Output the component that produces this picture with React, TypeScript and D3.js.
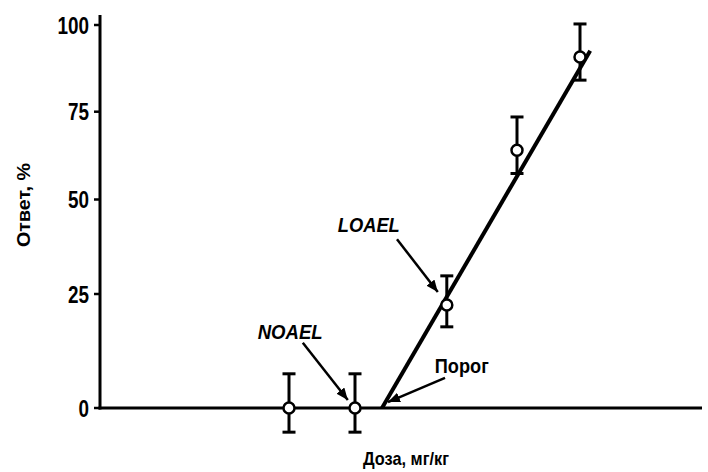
import React from 'react';
import * as d3 from 'd3';

// dose (arbitrary units) and response, %
const doses = [3.15, 4.25, 5.78, 6.95, 8.0];
const responses = [0, 0, 22.6, 64, 90.8];
const errHigh = [7.5, 7.5, 29.8, 73.5, 100.3];
const errLow = [-5.3, -5.3, 17.8, 57.4, 84.1];

// fitted line: threshold -> top
const fitLine: [number, number][] = [[4.7, 0], [8.17, 92.6]];

const yTicks = [0, 25, 50, 75, 100];

// annotations: label position and arrow from -> to (data coords)
const annotations = [
  { text: 'NOAEL', italic: true, x: 3.17, y: 15.1, from: [3.38, 14.3], to: [4.13, 1.75], len: 65 },
  { text: 'LOAEL', italic: true, x: 4.48, y: 41.4, from: [4.95, 39.5], to: [5.63, 25.5], len: 62 },
  { text: 'Порог', italic: false, x: 6.03, y: 7.7, from: [5.75, 6.6], to: [4.8, 1.3], len: 54 },
];

const W = 708;
const H = 472;
const font = '"Liberation Sans", Arial, Helvetica, sans-serif';

const App: React.FC = () => {
  const x = d3.scaleLinear().domain([0, 10]).range([100, 700]);
  // the printed axis is not evenly spaced, so map each tick where it sits
  const y = d3.scaleLinear().domain(yTicks).range([408, 294, 199.5, 111.7, 25]);

  const line = d3.line<[number, number]>().x(d => x(d[0])).y(d => y(d[1]));

  return (
    <svg width={W} height={H} style={{ position: 'absolute', left: 0, top: 0, background: '#fff' }}>
      <defs>
        <marker id="head" viewBox="0 0 12 10" refX="12" refY="5" markerWidth="12" markerHeight="10"
          markerUnits="userSpaceOnUse" orient="auto">
          <path d="M0,0 L12,5 L0,10 Z" fill="#000" />
        </marker>
      </defs>

      {/* axes */}
      <line x1={x(0)} x2={x(0)} y1={15} y2={y(0) + 1.5} stroke="#000" strokeWidth={3} />
      <line x1={x(0) - 1.5} x2={702} y1={y(0)} y2={y(0)} stroke="#000" strokeWidth={3} />
      {yTicks.map(t => (
        <g key={t}>
          <line x1={x(0) - 6} x2={x(0)} y1={y(t)} y2={y(t)} stroke="#000" strokeWidth={2.5} />
          <text x={x(0) - 11} y={y(t)} dy="0.37em" textAnchor="end" fontFamily={font}
            fontWeight="bold" fontSize={23} textLength={String(t).length * 10.5}
            lengthAdjust="spacingAndGlyphs">{t}</text>
        </g>
      ))}

      {/* axis titles */}
      <text x={406} y={465} textAnchor="middle" fontFamily={font} fontWeight="bold" fontSize={19}
        textLength={86} lengthAdjust="spacingAndGlyphs">Доза, мг/кг</text>
      <text transform="translate(30,205) rotate(-90)" textAnchor="middle" fontFamily={font}
        fontWeight="bold" fontSize={19} textLength={84} lengthAdjust="spacingAndGlyphs">Ответ, %</text>

      {/* fitted line */}
      <path d={line(fitLine) || ''} fill="none" stroke="#000" strokeWidth={4} />

      {/* error bars */}
      {doses.map((d, i) => (
        <g key={i} stroke="#000" strokeWidth={3}>
          <line x1={x(d)} x2={x(d)} y1={y(errHigh[i])} y2={y(errLow[i])} />
          <line x1={x(d) - 6.5} x2={x(d) + 6.5} y1={y(errHigh[i])} y2={y(errHigh[i])} />
          <line x1={x(d) - 6.5} x2={x(d) + 6.5} y1={y(errLow[i])} y2={y(errLow[i])} />
        </g>
      ))}

      {/* points */}
      {doses.map((d, i) => (
        <circle key={i} cx={x(d)} cy={y(responses[i])} r={5.5} fill="#fff" stroke="#000" strokeWidth={2.5} />
      ))}

      {/* annotations */}
      {annotations.map(a => (
        <g key={a.text}>
          <text x={x(a.x)} y={y(a.y)} textAnchor="middle" fontFamily={font} fontWeight="bold"
            fontStyle={a.italic ? 'italic' : 'normal'} fontSize={21} textLength={a.len}
            lengthAdjust="spacingAndGlyphs">{a.text}</text>
          <line x1={x(a.from[0])} y1={y(a.from[1])} x2={x(a.to[0])} y2={y(a.to[1])}
            stroke="#000" strokeWidth={2.5} markerEnd="url(#head)" />
        </g>
      ))}
    </svg>
  );
};

export default App;
